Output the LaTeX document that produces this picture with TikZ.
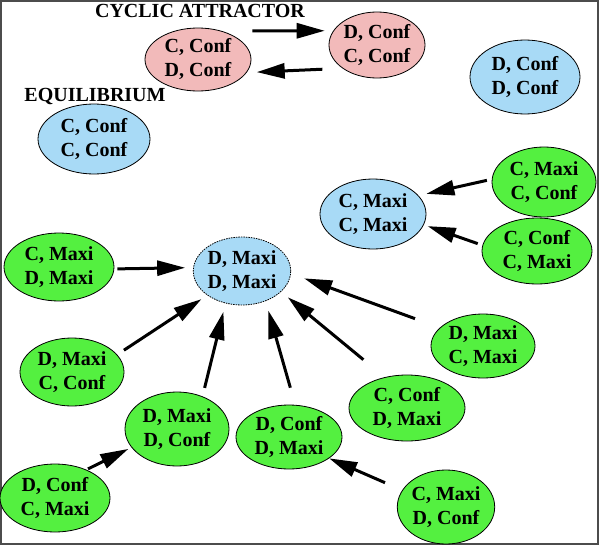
\documentclass[tikz,border=0pt]{standalone}
\usepackage{fontspec}
\setmainfont{Liberation Serif}
\usetikzlibrary{arrows.meta,shapes.geometric}
\definecolor{cyclepink}{RGB}{242,186,186}
\definecolor{equilblue}{RGB}{168,218,246}
\definecolor{basingreen}{RGB}{84,240,64}

\begin{document}
\begin{tikzpicture}[
        x=1pt, y=-1pt,
        font=\fontsize{20}{24}\selectfont\bfseries,
        profile/.style={ellipse, draw, line width=0.8pt, align=center, inner sep=0pt},
        pinkstate/.style={profile, fill=cyclepink},
        bluestate/.style={profile, fill=equilblue},
        greenstate/.style={profile, fill=basingreen},
        heading/.style={inner sep=0pt},
        arr/.style={line width=3pt, -{Triangle[length=28pt, width=15pt]}}
      ]
      \useasboundingbox (0,0) rectangle (600,546);
      \draw[line width=2pt, black!70] (1,1) rectangle (598,544);

      \node[heading] (cyctitle) at (200,11) {CYCLIC ATTRACTOR};
      \node[heading] (eqtitle) at (95,96) {EQUILIBRIUM};

      \node[pinkstate, minimum width=106, minimum height=63] (ccdc) at (198,59.5) {C, Conf\\D, Conf};
      \node[pinkstate, minimum width=96, minimum height=66] (dccc) at (377,45) {D, Conf\\C, Conf};

      \node[bluestate, minimum width=110, minimum height=74] (dddd) at (525,77) {D, Conf\\D, Conf};
      \node[bluestate, minimum width=112, minimum height=70] (cccc) at (94,139) {C, Conf\\C, Conf};
      \node[bluestate, minimum width=106, minimum height=70] (cmcm) at (373,214) {C, Maxi\\C, Maxi};
      \node[bluestate, minimum width=96, minimum height=68, dash pattern=on 1.5pt off 1pt] (dmdm) at (242,271) {D, Maxi\\D, Maxi};

      \node[greenstate, minimum width=104, minimum height=70] (cmcc) at (544,182) {C, Maxi\\C, Conf};
      \node[greenstate, minimum width=110, minimum height=66] (cccm) at (537,251) {C, Conf\\C, Maxi};
      \node[greenstate, minimum width=110, minimum height=68] (cmdm) at (59,267) {C, Maxi\\D, Maxi};
      \node[greenstate, minimum width=104, minimum height=68] (dmcc) at (72,372) {D, Maxi\\C, Conf};
      \node[greenstate, minimum width=104, minimum height=64] (dmcm) at (483,346) {D, Maxi\\C, Maxi};
      \node[greenstate, minimum width=116, minimum height=66] (ccdm) at (407,408) {C, Conf\\D, Maxi};
      \node[greenstate, minimum width=104, minimum height=74] (dmdc) at (177,429) {D, Maxi\\D, Conf};
      \node[greenstate, minimum width=106, minimum height=64] (dcdm) at (289,437) {D, Conf\\D, Maxi};
      \node[greenstate, minimum width=110, minimum height=68] (dccm) at (55,498) {D, Conf\\C, Maxi};
      \node[greenstate, minimum width=96, minimum height=74] (cmdc) at (446,507) {C, Maxi\\D, Conf};

      \draw[arr, shorten <=31pt, shorten >=8.5pt] (ccdc.51.6) -- (dccc.162);
      \draw[arr, shorten <=20pt, shorten >=10pt] (dccc.214) -- (ccdc.345);

      \draw[arr, shorten <=5pt, shorten >=8pt] (cmcc.177.8) -- (cmcm.22);
      \draw[arr, shorten <=5pt, shorten >=4pt] (cccm.174.4) -- (cmcm.348);

      \draw[arr, shorten <=3pt, shorten >=8pt] (cmdm.358) -- (dmdm.176.4);
      \draw[arr, shorten <=8pt, shorten >=7pt] (dmcc.21.8) -- (dmdm.215.3);
      \draw[arr, shorten <=8.7pt, shorten >=8.6pt] (dmdc.52.7) -- (dmdm.243.9);
      \draw[arr, shorten <=17.8pt, shorten >=9.7pt] (dcdm.79.7) -- (dmdm.308.2);
      \draw[arr, shorten <=27.5pt, shorten >=8.7pt] (ccdm.126.8) -- (dmdm.332);
      \draw[arr, shorten <=26.4pt, shorten >=14pt] (dmcm.157.5) -- (dmdm.357.4);

      \draw[arr, shorten <=1.7pt, shorten >=3.4pt] (dccm.42.9) -- (dmdc.202.4);
      \draw[arr, shorten <=18.7pt] (cmdc.159) -- (dcdm.332.9);
    \end{tikzpicture}
\end{document}
